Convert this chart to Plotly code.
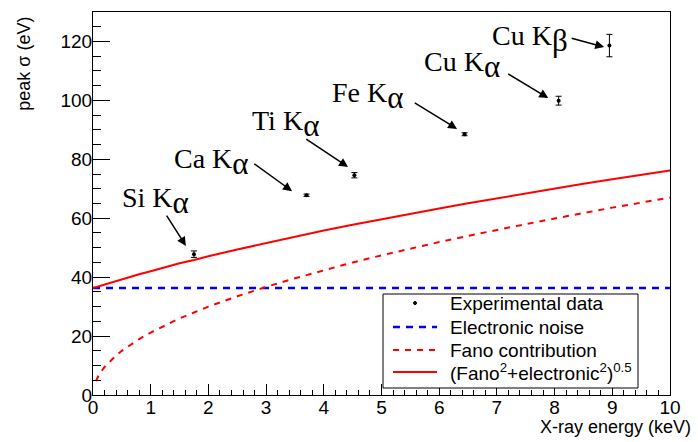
import plotly.graph_objects as go

lines = ["Si Kα", "Ca Kα", "Ti Kα", "Fe Kα", "Cu Kα", "Cu Kβ"]
energy_kev = [1.75, 3.70, 4.53, 6.44, 8.07, 8.95]
sigma_ev = [47.8, 67.8, 74.6, 88.5, 99.9, 118.6]
sigma_err = [1.1, 0.4, 0.9, 0.5, 1.5, 3.8]

# Model curves
curve_x = [0.0, 0.05, 0.1, 0.2, 0.3, 0.4, 0.5, 0.6, 0.8, 1.0, 1.25, 1.5, 1.75, 2.0, 2.5, 3.0,
           3.5, 4.0, 4.5, 5.0, 5.5, 6.0, 6.5, 7.0, 7.5, 8.0, 8.5, 9.0, 9.5, 10.0]
noise_y = [36.3] * len(curve_x)
fano_x = curve_x[1:]
fano_y = [4.7, 6.7, 9.5, 11.6, 13.4, 15.0, 16.4, 19.0, 21.2, 23.7, 26.0, 28.0, 30.0, 33.5, 36.7,
          39.6, 42.4, 45.0, 47.4, 49.7, 51.9, 54.0, 56.1, 58.0, 59.9, 61.8, 63.6, 65.3, 67.0]
total_y = [36.3, 36.6, 36.9, 37.5, 38.1, 38.7, 39.3, 39.8, 41.0, 42.0, 43.4, 44.7, 45.8, 47.1,
           49.4, 51.6, 53.7, 55.8, 57.8, 59.7, 61.5, 63.3, 65.1, 66.8, 68.4, 70.0, 71.7, 73.2,
           74.7, 76.2]

# Legend entries
legend_names = ["Experimental data", "Electronic noise", "Fano contribution",
                "(Fano<sup>2</sup>+electronic<sup>2</sup>)<sup>0.5</sup>"]

# Annotation labels
ann_text = ["Si K", "Ca K", "Ti K", "Fe K", "Cu K", "Cu K"]
ann_greek = ["α", "α", "α", "α", "α", "β"]
ann_text_pos = [(0.47, 66.0), (1.37, 79.2), (2.72, 92.0), (4.11, 101.5), (5.70, 112.0), (6.88, 121.0)]
arrow_tail = [(1.26, 61.4), (2.77, 78.8), (3.67, 87.2), (5.55, 99.5), (7.17, 109.3), (8.27, 121.2)]
arrow_head = [(1.61, 50.6), (3.45, 69.2), (4.42, 77.4), (6.31, 90.3), (7.89, 100.8), (8.86, 118.1)]

fig = go.Figure()

fig.add_trace(go.Scatter(
    x=energy_kev, y=sigma_ev, mode="markers", name=legend_names[0], showlegend=False,
    marker=dict(color="black", size=4),
    error_y=dict(type="data", array=sigma_err, color="black", thickness=1, width=3),
))
fig.add_trace(go.Scatter(
    x=curve_x, y=noise_y, mode="lines", name=legend_names[1], showlegend=False,
    line=dict(color="#0000ff", width=2.5, dash="7px,6px"),
))
fig.add_trace(go.Scatter(
    x=fano_x, y=fano_y, mode="lines", name=legend_names[2], showlegend=False,
    line=dict(color="#ff0000", width=2, dash="6px,6px"),
))
fig.add_trace(go.Scatter(
    x=curve_x, y=total_y, mode="lines", name=legend_names[3], showlegend=False,
    line=dict(color="#ff0000", width=2),
))

serif = dict(family="Liberation Serif", size=28, color="black")
for t, g, (tx, ty) in zip(ann_text, ann_greek, ann_text_pos):
    fig.add_annotation(x=tx, y=ty, text=t + "<sub><span style='font-size:31px'>" + g + "</span></sub>",
                       showarrow=False, xanchor="left", yanchor="middle", font=serif)
for (ax_, ay_), (hx, hy) in zip(arrow_tail, arrow_head):
    fig.add_annotation(x=hx, y=hy, ax=ax_, ay=ay_, axref="x", ayref="y", text="",
                       showarrow=True, arrowhead=2, arrowsize=1.2, arrowwidth=1.5,
                       arrowcolor="black", standoff=0, startstandoff=0)

# axis titles
sans = dict(family="Liberation Sans", size=18, color="black")
fig.add_annotation(x=1.04, y=-0.0836, xref="paper", yref="paper", text="X-ray energy (keV)",
                   showarrow=False, xanchor="right", yanchor="middle", font=sans)
fig.add_annotation(x=-0.1196, y=0.993, xref="paper", yref="paper", text="peak σ (eV)",
                   showarrow=False, xanchor="center", yanchor="top", textangle=-90, font=sans)

# manual legend box (paper coordinates)
def px_x(p):
    return (p - 93) / 577.0

def px_y(p):
    return (395 - p) / 383.0

fig.add_shape(type="rect", xref="paper", yref="paper", x0=px_x(383), x1=px_x(638),
              y0=px_y(388), y1=px_y(294), line=dict(color="black", width=1), fillcolor="white",
              layer="above")
row_y = [303, 327, 350, 372]
sym_x0, sym_x1, txt_x = 393, 437, 448
fig.add_shape(type="circle", xref="paper", yref="paper", x0=px_x(413.5), x1=px_x(416.5),
              y0=px_y(304.5), y1=px_y(301.5), line=dict(color="black", width=1),
              fillcolor="black", layer="above")
sym_styles = [None,
              dict(color="#0000ff", width=2.5, dash="7px,6px"),
              dict(color="#ff0000", width=2, dash="6px,6px"),
              dict(color="#ff0000", width=2)]
for ry, st in zip(row_y[1:], sym_styles[1:]):
    fig.add_shape(type="line", xref="paper", yref="paper", x0=px_x(sym_x0), x1=px_x(sym_x1),
                  y0=px_y(ry), y1=px_y(ry), line=st, layer="above")
for ry, name in zip(row_y, legend_names):
    fig.add_annotation(x=px_x(txt_x), y=px_y(ry), xref="paper", yref="paper", text=name,
                       showarrow=False, xanchor="left", yanchor="middle",
                       font=dict(family="Liberation Sans", size=19, color="black"))

fig.update_layout(
    width=698, height=442,
    margin=dict(l=93, r=28, t=12, b=47),
    paper_bgcolor="white", plot_bgcolor="white",
    font=dict(family="Liberation Sans", size=19, color="black"),
    showlegend=False,
    xaxis=dict(range=[0, 10], showgrid=False, zeroline=False, showline=True, linecolor="black",
               linewidth=1, mirror=True, ticks="inside", ticklen=11, tickcolor="black",
               dtick=1, tick0=0, tickfont=dict(size=19), ticklabelstandoff=-5,
               minor=dict(ticks="inside", ticklen=5, dtick=0.2, tickcolor="black")),
    yaxis=dict(range=[0, 130], showgrid=False, zeroline=False, showline=True, linecolor="black",
               linewidth=1, mirror=True, ticks="inside", ticklen=17, tickcolor="black",
               dtick=20, tick0=0, tickfont=dict(size=19), ticklabelstandoff=-4,
               minor=dict(ticks="inside", ticklen=8, dtick=5, tickcolor="black")),
)

fig.write_html("out.html", config={"displayModeBar": False},
               post_script="document.body.style.margin='0px';")
